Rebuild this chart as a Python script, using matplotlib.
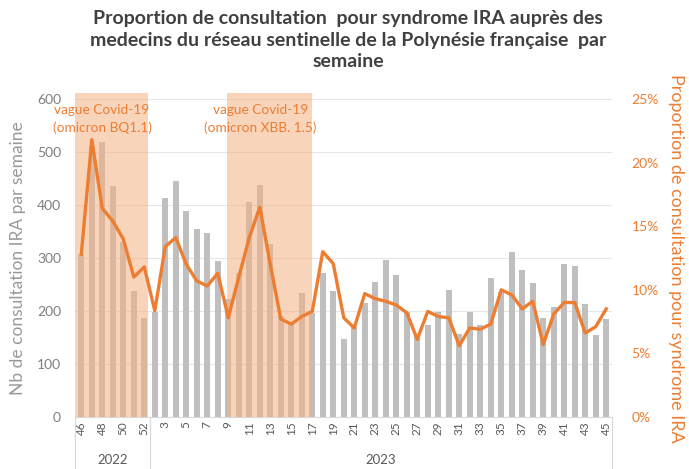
import matplotlib
matplotlib.use("Agg")
import matplotlib.pyplot as plt
from matplotlib.ticker import PercentFormatter
import numpy as np

plt.rcParams['font.family'] = ['Lato', 'DejaVu Sans']

# weeks shown on the axis
weeks_2022 = [46, 47, 48, 49, 50, 51, 52]
weeks_2023 = list(range(2, 46))

# number of ARI consultations per week
nb_consult = [307, 512, 518, 435, 330, 237, 187,
              199, 413, 446, 388, 355, 347, 294, 222, 272, 405, 438, 327,
              190, 178, 234, 196, 272, 237, 148, 169, 216, 254, 297, 268,
              198, 155, 174, 199, 240, 157, 199, 174, 262, 235, 312, 277,
              252, 187, 208, 288, 284, 213, 154, 184]

# proportion of consultations for ARI (%)
proportion = [12.8, 21.8, 16.4, 15.4, 14.0, 11.0, 11.8,
              8.35, 13.4, 14.1, 12.0, 10.7, 10.3, 11.3, 7.8, 11.0, 14.1, 16.5, 12.0,
              7.7, 7.3, 7.9, 8.3, 13.0, 12.05, 7.8, 7.0, 9.7, 9.3, 9.1, 8.8,
              8.2, 6.1, 8.3, 7.9, 7.8, 5.6, 7.0, 6.9, 7.3, 10.0, 9.6, 8.5,
              9.1, 5.7, 8.1, 9.0, 9.0, 6.6, 7.1, 8.5]

waves = [("vague Covid-19\n(omicron BQ1.1)", -0.6, 6.35),
         ("vague Covid-19\n(omicron XBB. 1.5)", 13.9, 22.0)]

week_labels = weeks_2022 + weeks_2023
x = np.arange(len(week_labels))

orange = '#ED7D31'
grey_txt = '#7F7F7F'

fig = plt.figure(figsize=(6.89, 4.69), dpi=100)
ax = fig.add_axes([75 / 689, 1 - 417 / 469, (612 - 75) / 689, (417 - 99) / 469])

ax.bar(x, nb_consult, width=0.57, color='#BFBFBF', zorder=2)
ax.set_xlim(-0.6, len(x) - 0.45)
ax.set_ylim(0, 600)
ax.set_yticks(range(0, 601, 100))
ax.grid(axis='y', color='#E6E6E6', linewidth=0.8, zorder=0)
for s in ['top', 'left', 'right']:
    ax.spines[s].set_visible(False)
ax.spines['bottom'].set_color('#D9D9D9')
ax.tick_params(axis='y', length=0, labelcolor=grey_txt, labelsize=10, pad=10)
ax.set_ylabel('Nb de consultation IRA par semaine', color='#999999', fontsize=12.5, labelpad=8)

# week labels every other week
ax.set_xticks(x[::2])
ax.set_xticklabels([str(w) for w in week_labels[::2]], rotation=90, fontsize=8.5, color='#595959')
ax.tick_params(axis='x', length=0, pad=3)

# covid waves
for txt, x0, x1 in waves:
    ax.axvspan(x0, x1, ymin=0, ymax=1.018, color='#F4B183', alpha=0.55, lw=0, zorder=3, clip_on=False)
    ax.text((x0 + x1) / 2 - 0.9, 562, txt, ha='center', va='center', color=orange,
            fontsize=9.8, linespacing=1.5, zorder=6)

# year groups below the axis
trans = ax.get_xaxis_transform()
sep = len(weeks_2022) - 0.5
for xs in [ax.get_xlim()[0], sep, ax.get_xlim()[1]]:
    ax.plot([xs, xs], [0, -0.165], transform=trans, color='#D9D9D9', lw=0.8, clip_on=False)
ax.text((ax.get_xlim()[0] + sep) / 2, -0.135, '2022', transform=trans, ha='center', va='center',
        fontsize=9.5, color='#595959')
ax.text((sep + ax.get_xlim()[1]) / 2, -0.135, '2023', transform=trans, ha='center', va='center',
        fontsize=9.5, color='#595959')

# proportion line on second axis
ax2 = ax.twinx()
ax2.plot(x, proportion, color=orange, lw=2.4, zorder=5, solid_joinstyle='round')
ax2.set_ylim(0, 25)
ax2.set_yticks(range(0, 26, 5))
ax2.yaxis.set_major_formatter(PercentFormatter(decimals=0))
for s in ['top', 'left', 'right', 'bottom']:
    ax2.spines[s].set_visible(False)
ax2.tick_params(axis='y', length=0, labelcolor=orange, labelsize=10, pad=14)
ax2.set_ylabel('Proportion de consultation pour syndrome IRA', color=orange, fontsize=13,
               rotation=270, labelpad=18)

fig.suptitle("Proportion de consultation  pour syndrome IRA auprès des\n"
             "medecins du réseau sentinelle de la Polynésie française  par\n"
             "semaine", x=0.505, y=0.978, fontsize=14, fontweight='bold', color='#404040',
             linespacing=1.3)

fig.savefig('out.png', dpi=100)
